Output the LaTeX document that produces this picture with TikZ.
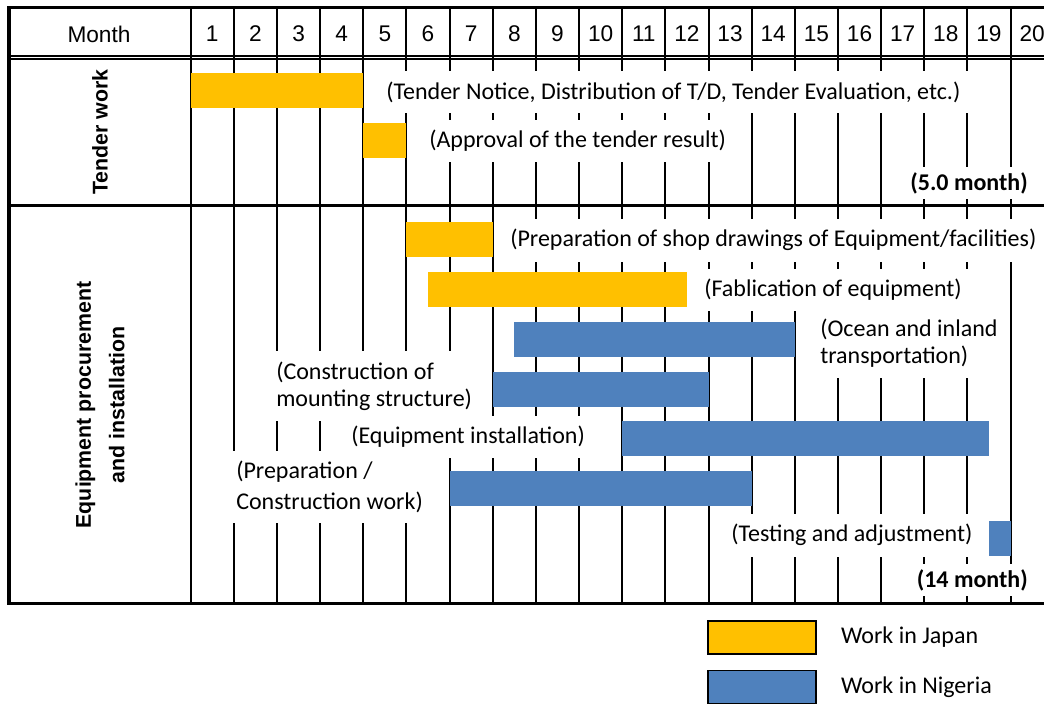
\documentclass[tikz,border=0pt]{standalone}
\usepackage{fontspec}
\setmainfont{Carlito}
\newfontfamily\headfont{Liberation Sans}
\definecolor{JapanYellow}{RGB}{255,192,0}
\definecolor{NigeriaBlue}{RGB}{79,129,189}
\usetikzlibrary{positioning}
% x position of a month boundary (0 = start of month 1)
\newcommand{\mx}[1]{190.7+(#1)*43.15}

\begin{document}
\begin{tikzpicture}[x=0.75pt, y=-0.75pt,
    grid/.style={line width=1.5pt},
    frame/.style={line width=2.6pt},
    lbl/.style={fill=white, anchor=west, inner xsep=6pt, inner ysep=8pt, align=left, font=\fontsize{18}{20}\selectfont},
    dur/.style={fill=white, anchor=east, inner xsep=6pt, inner ysep=4pt, font=\fontsize{18}{20}\selectfont\bfseries},
    head/.style={font=\headfont\fontsize{17}{20}\selectfont},
    side/.style={font=\headfont\bfseries\fontsize{16}{25}\selectfont, rotate=90, align=center},
    key/.style={draw=black, line width=1.2pt, fill=#1, minimum width=81pt, minimum height=24.5pt, inner sep=0pt},
    keytext/.style={inner sep=0pt, font=\fontsize{18}{20}\selectfont}
]
    \useasboundingbox (0,0) rectangle (1044,704);

    % grid
    \foreach \m in {0,...,19}
        \draw[grid] ({\mx{\m}},8) -- ({\mx{\m}},603);
    \draw[line width=1.1pt] (9,55.8) -- (1044,55.8);
    \draw[line width=1.1pt] (9,59.2) -- (1044,59.2);
    \draw[frame] (1044,7.5) -- (9,7.5) -- (9,603.5) -- (1044,603.5);
    \draw[frame] (9,205.5) -- (1044,205.5);

    % header
    \node[head] (month) at (99,34) {Month};
    \foreach \m in {1,...,20}
        \node[head] (h\m) at ({\mx{\m-0.5}},34) {\m};

    % row titles
    \node[side] (tender) at (100,132) {Tender work};
    \node[side] (equip) at (100,405) {Equipment procurement\\and installation};

    % labels
    \node[lbl] (tnotice) at (378,92) {(Tender Notice, Distribution of T/D, Tender Evaluation, etc.)};
    \node[lbl] (tapprove) at (421,141) {(Approval of the tender result)};
    \node[dur] (tdur) at (1036,183) {(5.0 month)};
    \node[lbl] (eshop) at (502,240) {(Preparation of shop drawings of Equipment/facilities)};
    \node[lbl] (efab) at (696,290) {(Fablication of equipment)};
    \node[lbl] (eocean) at (812,343) {(Ocean and inland\\transportation)};
    \node[lbl] (emount) at (268,386) {(Construction of\\mounting structure)};
    \node[lbl] (einstall) at (343,437) {(Equipment installation)};
    \node[lbl] (eprep) at (228,487) {(Preparation /\\[3pt]Construction work)};
    \node[lbl] (etest) at (723,535) {(Testing and adjustment)};
    \node[dur] (edur) at (1036,580) {(14 month)};

    % bars
    \fill[JapanYellow] ({\mx{0}},73) rectangle ({\mx{4}},107.5);
    \fill[JapanYellow] ({\mx{4}},123) rectangle ({\mx{5}},157.5);
    \fill[JapanYellow] ({\mx{5}},222) rectangle ({\mx{7}},257);
    \fill[JapanYellow] ({\mx{5.5}},272) rectangle ({\mx{11.5}},307);
    \fill[NigeriaBlue] ({\mx{7.5}},322) rectangle ({\mx{14}},357);
    \fill[NigeriaBlue] ({\mx{7}},372) rectangle ({\mx{12}},407);
    \fill[NigeriaBlue] ({\mx{10}},421) rectangle ({\mx{18.5}},456);
    \fill[NigeriaBlue] ({\mx{6}},471) rectangle ({\mx{13}},506);
    \fill[NigeriaBlue] ({\mx{18.5}},521) rectangle ({\mx{19}},556);

    % legend
    \node[key=JapanYellow] (kjapan) at (762,637.5) {};
    \node[keytext, right=18pt of kjapan] (tjapan) {Work in Japan};
    \node[key=NigeriaBlue] (knigeria) at (762,687) {};
    \node[keytext, right=18pt of knigeria] (tnigeria) {Work in Nigeria};
\end{tikzpicture}
\end{document}
